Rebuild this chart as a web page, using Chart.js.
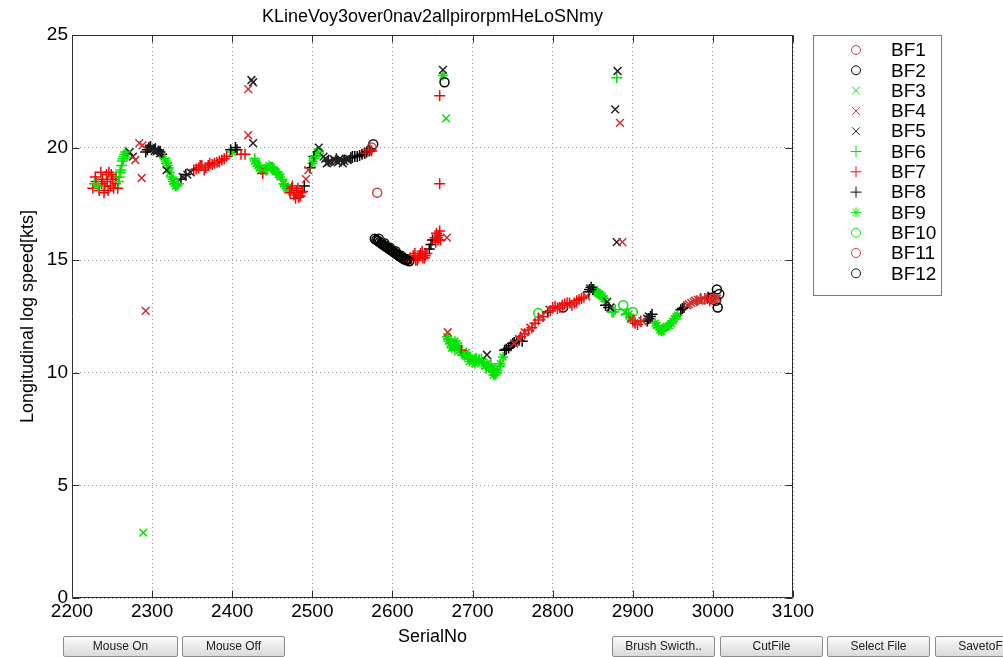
<!DOCTYPE html>
<html>
<head>
<meta charset="utf-8">
<title>KLineVoy3over0nav2allpirorpmHeLoSNmy</title>
<script src="https://cdn.jsdelivr.net/npm/chart.js@4/dist/chart.umd.min.js"></script>
<style>
  html, body { margin: 0; padding: 0; background: #fff; overflow: hidden; }
  #wrap { position: relative; width: 1003px; height: 657px; overflow: hidden; }
  #plot { position: absolute; left: 0; top: 0; }
  .btn {
    position: absolute; top: 636px; height: 21px; box-sizing: border-box;
    border: 1px solid #8c8c8c; border-radius: 2px;
    background: linear-gradient(#fbfbfb, #dadada);
    font: 12px "Liberation Sans", Arial, sans-serif; color: #222;
    text-align: center; line-height: 19px; white-space: nowrap; overflow: hidden;
  }
</style>
</head>
<body>
<div id="wrap">
  <canvas id="plot" width="1003" height="657"></canvas>
  <div class="btn" style="left:63px;width:115px">Mouse On</div>
  <div class="btn" style="left:182px;width:103px">Mouse Off</div>
  <div class="btn" style="left:612px;width:103px">Brush Swicth..</div>
  <div class="btn" style="left:720px;width:103px">CutFile</div>
  <div class="btn" style="left:827px;width:103px">Select File</div>
  <div class="btn" style="left:935px;width:103px">SavetoFile</div>
</div>
<script>
// chart values: [SerialNo, speed]
const chartTitle = 'KLineVoy3over0nav2allpirorpmHeLoSNmy';
const xTicks = [2200, 2300, 2400, 2500, 2600, 2700, 2800, 2900, 3000, 3100];
const yTicks = [0, 5, 10, 15, 20, 25];
const seriesNames = ['BF1', 'BF2', 'BF3', 'BF4', 'BF5', 'BF6', 'BF7', 'BF8', 'BF9', 'BF10', 'BF11', 'BF12'];

const bf1 = [[2581, 18.0], [3001, 13.3]];
const bf2 = [[2578, 15.95], [2582, 15.85], [2586, 15.75], [2590, 15.65], [2594, 15.55], [2598, 15.45],
  [2602, 15.35], [2606, 15.25], [2610, 15.15], [2614, 15.05], [2618, 15.0], [2621, 14.95],
  [2580, 15.9], [2584, 15.8], [2588, 15.7], [2592, 15.6], [2596, 15.5], [2600, 15.4], [2604, 15.3],
  [2608, 15.2], [2612, 15.1], [2616, 15.02], [2665, 22.9], [3005, 13.7], [3006, 12.9]];
const bf3 = [[2289, 2.9], [2667, 21.3], [2268, 19.7], [2445, 19.1], [2700, 10.7], [2890, 12.7]];
const bf4 = [[2292, 12.75], [2287, 18.65], [2279, 19.45], [2284, 20.2], [2288, 20.1], [2420, 20.55],
  [2420, 22.6], [2364, 19.15], [2380, 19.3], [2492, 18.6], [2495, 19.0], [2668, 16.0], [2669, 11.8],
  [2887, 15.8], [2884, 21.1], [2752, 11.3], [2758, 11.5], [2765, 11.8], [2772, 12.0], [2786, 12.5],
  [2796, 12.8], [2810, 12.95], [2826, 13.05], [2842, 13.4], [2898, 12.4], [2906, 12.2], [2912, 12.3],
  [2968, 13.0], [2970, 13.05], [2973, 13.1], [2976, 13.15], [2978, 13.2], [2981, 13.25], [2983, 13.2],
  [2986, 13.2], [2988, 13.3], [3000, 13.3], [3005, 13.3]];
const bf5 = [[2272, 19.8], [2276, 19.6], [2296, 19.95], [2300, 20.0], [2303, 19.85], [2306, 19.9],
  [2310, 19.75], [2318, 19.0], [2338, 18.7], [2344, 18.8], [2348, 18.9], [2424, 23.0], [2426, 22.9],
  [2426, 20.2], [2508, 20.0], [2514, 19.6], [2516, 19.5], [2518, 19.3], [2520, 19.35], [2522, 19.4],
  [2526, 19.5], [2528, 19.45], [2530, 19.4], [2532, 19.35], [2534, 19.5], [2536, 19.45], [2538, 19.3],
  [2540, 19.4], [2542, 19.5], [2544, 19.45], [2546, 19.5], [2663, 23.45], [2718, 10.8], [2847, 13.75],
  [2868, 13.15], [2872, 12.9], [2878, 21.7], [2880, 15.8], [2881, 23.4], [2918, 12.4], [2920, 12.5]];
const bf6 = [[2228, 18.4], [2233, 18.3], [2258, 18.5], [2259, 18.7], [2260, 18.9], [2261, 19.0],
  [2262, 19.2], [2263, 19.4], [2264, 19.5], [2265, 19.6], [2266, 19.7], [2267, 19.8], [2269, 19.7],
  [2316, 19.5], [2318, 19.3], [2320, 19.1], [2324, 18.7], [2326, 18.6], [2328, 18.4], [2331, 18.3],
  [2333, 18.4], [2428, 19.5], [2434, 19.2], [2442, 19.0], [2444, 19.0], [2450, 19.1], [2452, 19.05],
  [2456, 18.9], [2458, 18.8], [2462, 18.6], [2466, 18.35], [2504, 19.6], [2670, 11.5], [2678, 11.0],
  [2688, 10.8], [2696, 10.7], [2702, 10.5], [2708, 10.6], [2711, 10.6], [2714, 10.4], [2717, 10.2],
  [2720, 10.3], [2723, 10.4], [2726, 10.1], [2728, 9.9], [2730, 10.0], [2734, 10.3], [2856, 13.6],
  [2862, 13.35], [2874, 12.7], [2876, 12.7], [2878, 12.8], [2880, 23.1], [2892, 12.6], [2932, 12.0],
  [2936, 11.9], [2938, 11.9], [2944, 12.1], [2948, 12.2]];
const bf7 = [[2226, 18.2], [2229, 18.7], [2230, 18.5], [2234, 18.1], [2236, 18.9], [2237, 18.4],
  [2238, 18.6], [2240, 18.0], [2241, 18.3], [2243, 18.8], [2244, 18.5], [2245, 18.1], [2246, 18.9],
  [2248, 18.3], [2249, 18.8], [2251, 18.6], [2252, 18.2], [2254, 18.4], [2255, 18.7], [2257, 18.2],
  [2352, 19.0], [2355, 19.05], [2358, 19.1], [2360, 19.2], [2362, 19.2], [2365, 19.0], [2367, 19.1],
  [2370, 19.2], [2372, 19.3], [2375, 19.25], [2378, 19.3], [2381, 19.35], [2384, 19.4], [2387, 19.45],
  [2390, 19.5], [2393, 19.6], [2411, 19.7], [2416, 19.7], [2438, 18.85], [2472, 18.0], [2474, 18.2],
  [2475, 18.3], [2477, 17.9], [2479, 17.75], [2480, 18.1], [2482, 18.2], [2483, 17.8], [2485, 17.85],
  [2486, 18.0], [2488, 18.05], [2566, 19.75], [2572, 19.9], [2574, 19.85], [2622, 15.1], [2624, 15.0],
  [2626, 15.2], [2628, 15.3], [2629, 15.0], [2631, 15.0], [2632, 15.1], [2634, 15.2], [2635, 15.3],
  [2637, 15.4], [2638, 15.1], [2640, 15.1], [2641, 15.2], [2643, 15.3], [2653, 16.0], [2654, 15.8],
  [2655, 16.2], [2656, 16.0], [2657, 15.9], [2658, 16.1], [2659, 16.3], [2660, 15.9], [2659, 18.4],
  [2659, 22.3], [2686, 11.0], [2760, 11.6], [2765, 11.75], [2770, 11.9], [2774, 12.0], [2778, 12.2],
  [2782, 12.35], [2788, 12.5], [2797, 12.75], [2800, 12.9], [2803, 12.95], [2806, 12.85], [2809, 12.9],
  [2812, 13.0], [2815, 13.05], [2818, 13.1], [2821, 13.1], [2824, 13.0], [2827, 13.1], [2830, 13.2],
  [2833, 13.25], [2836, 13.3], [2839, 13.35], [2900, 12.3], [2903, 12.2], [2906, 12.15], [2910, 12.3],
  [2980, 13.2], [2985, 13.3], [2990, 13.3], [2993, 13.3], [2996, 13.2], [2999, 13.25], [3003, 13.35]];
const bf8 = [[2292, 19.8], [2294, 19.9], [2296, 20.0], [2298, 20.05], [2302, 19.9], [2304, 19.95],
  [2308, 19.85], [2310, 19.8], [2312, 19.7], [2336, 18.6], [2342, 18.8], [2398, 19.9], [2404, 20.0],
  [2406, 19.9], [2490, 18.3], [2497, 19.1], [2502, 19.6], [2520, 19.4], [2530, 19.5], [2540, 19.45],
  [2548, 19.55], [2550, 19.6], [2553, 19.6], [2556, 19.6], [2559, 19.65], [2562, 19.7], [2565, 19.75],
  [2568, 19.8], [2571, 19.85], [2646, 15.5], [2648, 15.7], [2650, 15.9], [2740, 11.0], [2742, 11.05],
  [2745, 11.1], [2748, 11.2], [2750, 11.3], [2752, 11.35], [2755, 11.4], [2758, 11.45], [2762, 11.4],
  [2794, 12.7], [2845, 13.6], [2846, 13.7], [2848, 13.8], [2850, 13.7], [2866, 13.0], [2870, 12.9],
  [2918, 12.3], [2920, 12.4], [2922, 12.5], [2924, 12.6], [2960, 12.8], [2962, 12.85], [2964, 12.9],
  [2994, 13.35], [2996, 13.3], [2998, 13.3], [3000, 13.35], [3002, 13.4]];
const bf9 = [[2317, 19.4], [2320, 19.2], [2322, 18.9], [2326, 18.5], [2329, 18.3], [2400, 19.8],
  [2428, 19.4], [2430, 19.3], [2432, 19.2], [2434, 19.1], [2436, 19.0], [2440, 19.05], [2446, 19.2],
  [2448, 19.15], [2452, 19.0], [2454, 18.95], [2458, 18.8], [2460, 18.7], [2464, 18.4], [2466, 18.3],
  [2468, 18.2], [2470, 18.15], [2500, 19.3], [2502, 19.5], [2506, 19.8], [2585, 15.8], [2592, 15.6],
  [2598, 15.5], [2604, 15.3], [2610, 15.2], [2616, 15.0], [2663, 23.2], [2668, 11.6], [2670, 11.4],
  [2672, 11.3], [2674, 11.1], [2676, 11.2], [2678, 11.4], [2680, 11.3], [2682, 11.2], [2684, 11.0],
  [2686, 10.9], [2690, 10.8], [2692, 10.9], [2694, 10.7], [2696, 10.5], [2698, 10.6], [2700, 10.6],
  [2703, 10.4], [2705, 10.6], [2708, 10.5], [2712, 10.5], [2716, 10.3], [2718, 10.4], [2721, 10.2],
  [2724, 10.2], [2726, 9.9], [2728, 10.0], [2731, 10.1], [2735, 10.4], [2738, 10.7], [2852, 13.7],
  [2854, 13.6], [2856, 13.55], [2858, 13.5], [2860, 13.45], [2862, 13.4], [2864, 13.3], [2895, 12.6],
  [2897, 12.45], [2928, 12.2], [2930, 12.1], [2934, 11.9], [2936, 11.85], [2940, 12.0], [2942, 12.05],
  [2946, 12.1], [2948, 12.2], [2950, 12.3], [2952, 12.4], [2954, 12.5], [2956, 12.55]];
const bf10 = [[2508, 19.8], [2782, 12.65], [2888, 13.0], [2900, 12.7]];
const bf11 = [[2574, 20.0], [2999, 13.35]];
const bf12 = [[2576, 20.15], [2583, 15.95], [2590, 15.75], [2597, 15.55], [2604, 15.4], [2611, 15.2],
  [2618, 15.05], [2813, 12.9], [3004, 13.2], [3008, 13.5]];

const seriesData = [bf1, bf2, bf3, bf4, bf5, bf6, bf7, bf8, bf9, bf10, bf11, bf12];

// marker look per series (MATLAB style o, x, +, *)
const RED = '#ff0000', GREEN = '#00e600', BLACK = '#000000';
const markerLook = [
  { style: 'circle', color: '#d23c3c', r: 4.5 },
  { style: 'circle', color: BLACK, r: 4.5 },
  { style: 'crossRot', color: GREEN, r: 5.5 },
  { style: 'crossRot', color: '#d03030', r: 5.5 },
  { style: 'crossRot', color: '#222222', r: 5.5 },
  { style: 'cross', color: GREEN, r: 5.5 },
  { style: 'cross', color: RED, r: 5.5 },
  { style: 'cross', color: BLACK, r: 5.5 },
  { style: 'star', color: GREEN, r: 5 },
  { style: 'circle', color: GREEN, r: 4.5 },
  { style: 'circle', color: '#c84040', r: 4.5 },
  { style: 'circle', color: '#111111', r: 4.5 }
];

const datasets = seriesNames.map((name, i) => ({
  label: name,
  data: seriesData[i].map(p => ({ x: p[0], y: p[1] })),
  showLine: false,
  pointStyle: markerLook[i].style,
  pointRadius: markerLook[i].r,
  pointHoverRadius: markerLook[i].r,
  pointBorderWidth: 1.5,
  borderColor: markerLook[i].color,
  backgroundColor: 'rgba(0,0,0,0)'
}));

// box round the axes with inward ticks, like MATLAB
const axesBox = {
  id: 'axesBox',
  afterDatasetsDraw(chart) {
    const { ctx, chartArea: a, scales: { x, y } } = chart;
    const L = Math.round(a.left) + 0.5, R = Math.round(a.right) - 0.5;
    const T = Math.round(a.top) + 0.5, B = Math.round(a.bottom) - 0.5;
    const len = 7;
    ctx.save();
    ctx.strokeStyle = '#303030';
    ctx.lineWidth = 1;
    ctx.beginPath();
    ctx.rect(L, T, R - L, B - T);
    xTicks.forEach(v => {
      const px = Math.round(x.getPixelForValue(v)) + 0.5;
      ctx.moveTo(px, B); ctx.lineTo(px, B - len);
      ctx.moveTo(px, T); ctx.lineTo(px, T + len);
    });
    yTicks.forEach(v => {
      const py = Math.round(y.getPixelForValue(v)) + 0.5;
      ctx.moveTo(L, py); ctx.lineTo(L + len, py);
      ctx.moveTo(R, py); ctx.lineTo(R - len, py);
    });
    ctx.stroke();
    ctx.restore();
  }
};

// legend box on the right side
const boxLegend = {
  id: 'boxLegend',
  afterDraw(chart) {
    const ctx = chart.ctx;
    const left = 813, top = 35, w = 128, h = 260;
    const firstRow = 50, step = 20.3, markX = 856, textX = 891;
    ctx.save();
    ctx.fillStyle = '#fff';
    ctx.fillRect(left, top, w, h);
    ctx.strokeStyle = '#7a7a7a';
    ctx.lineWidth = 1;
    ctx.strokeRect(left + 0.5, top + 0.5, w, h);
    ctx.font = '19px "Liberation Sans", Arial, sans-serif';
    ctx.textBaseline = 'middle';
    chart.data.datasets.forEach((ds, i) => {
      const yy = firstRow + i * step;
      ctx.strokeStyle = ds.borderColor;
      ctx.fillStyle = 'rgba(0,0,0,0)';
      ctx.lineWidth = 1;
      Chart.helpers.drawPoint(ctx, { pointStyle: ds.pointStyle, radius: ds.pointRadius, rotation: 0, borderWidth: 1 }, markX, yy);
      ctx.fillStyle = '#000';
      ctx.fillText(ds.label, textX, yy + 1);
    });
    ctx.restore();
  }
};

Chart.defaults.font.family = '"Liberation Sans", Arial, sans-serif';
Chart.defaults.color = '#000';

new Chart(document.getElementById('plot'), {
  type: 'scatter',
  data: { datasets: datasets },
  options: {
    responsive: false,
    animation: false,
    layout: { padding: { left: 0, top: 0, right: 210, bottom: 0 } },
    plugins: {
      legend: { display: false },
      tooltip: { enabled: false },
      title: {
        display: true,
        fullSize: false,
        text: chartTitle,
        font: { size: 18, weight: 'normal' },
        color: '#000',
        padding: { top: 6.7, bottom: 6.7 }
      }
    },
    scales: {
      x: {
        type: 'linear',
        min: xTicks[0],
        max: xTicks[xTicks.length - 1],
        afterBuildTicks: s => { s.ticks = xTicks.map(v => ({ value: v })); },
        afterFit: s => { s.height = 59; },
        grid: { color: '#9a9a9a', drawTicks: false },
        border: { display: false, dash: [1, 3] },
        ticks: { font: { size: 19 }, padding: 2, color: '#000', maxRotation: 0, callback: v => String(v) },
        title: { display: true, text: 'SerialNo', font: { size: 18 }, padding: { top: 0, bottom: 9 }, color: '#000' }
      },
      y: {
        type: 'linear',
        min: yTicks[0],
        max: yTicks[yTicks.length - 1],
        afterBuildTicks: s => { s.ticks = yTicks.map(v => ({ value: v })); },
        afterFit: s => { s.width = 72; },
        grid: { color: '#9a9a9a', drawTicks: false },
        border: { display: false, dash: [1, 3] },
        ticks: { font: { size: 19 }, padding: 4, color: '#000', callback: v => String(v) },
        title: { display: true, text: 'Longitudinal log speed[kts]', font: { size: 18 }, padding: { top: 17, bottom: 0 }, color: '#000' }
      }
    }
  },
  plugins: [axesBox, boxLegend]
});
</script>
</body>
</html>
